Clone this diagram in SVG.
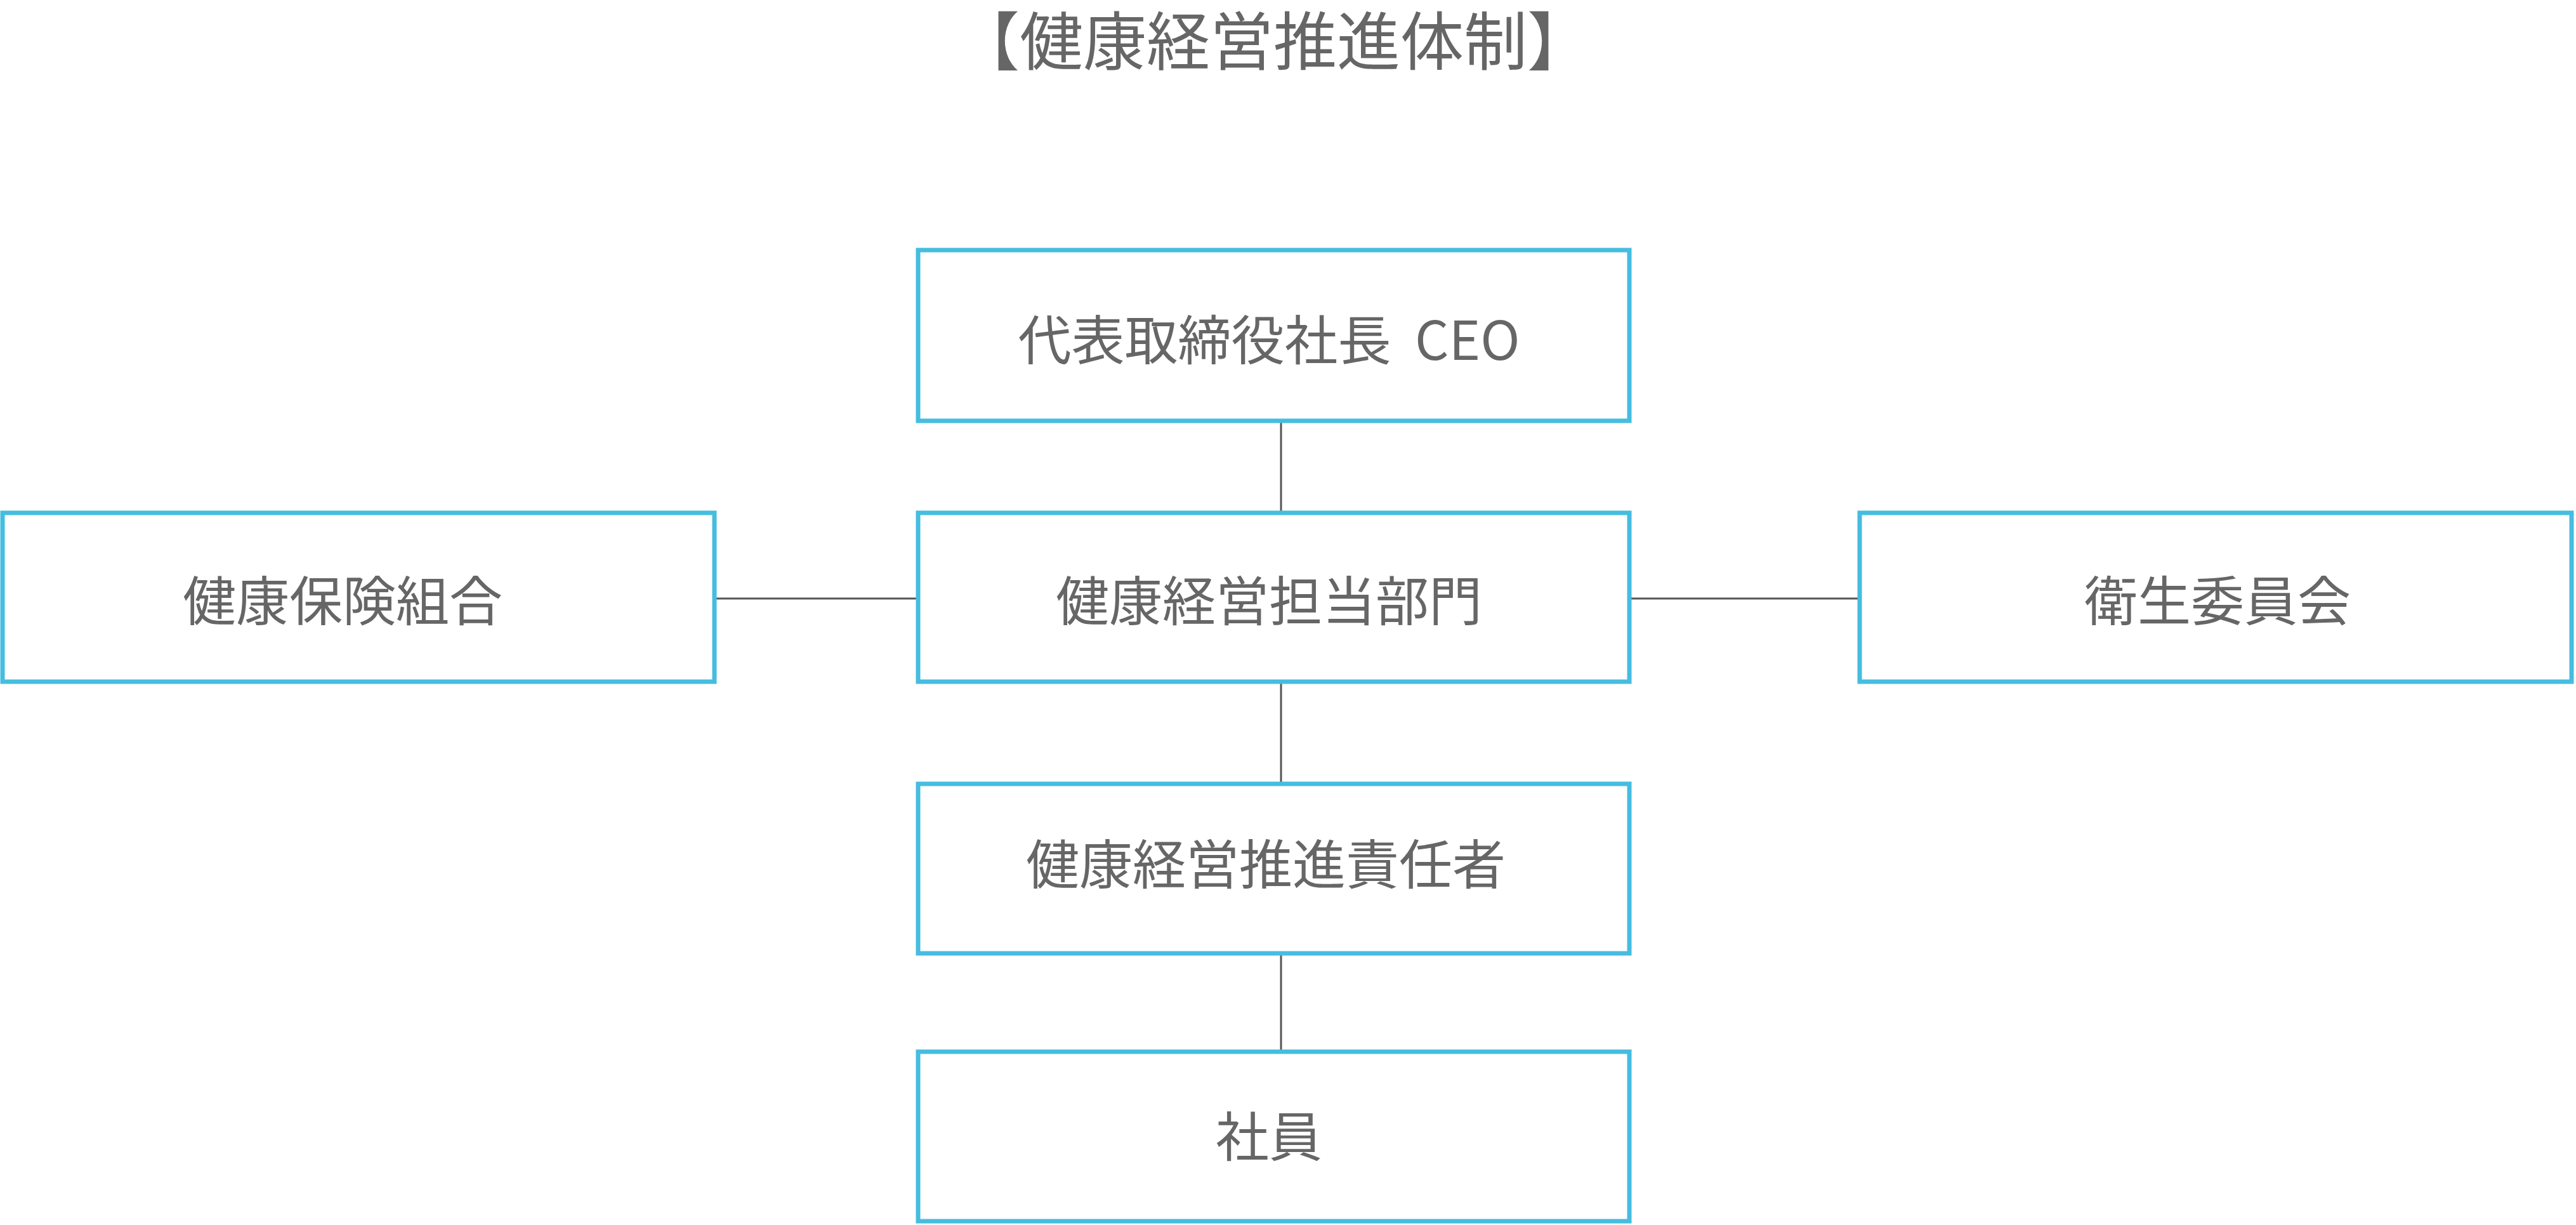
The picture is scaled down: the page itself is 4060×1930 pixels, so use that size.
<svg xmlns="http://www.w3.org/2000/svg" width="4060" height="1930" viewBox="0 0 4060 1930">
<style>
.box{fill:#fff;stroke:#45bde0;stroke-width:7}
.t{font-family:"Noto Sans CJK JP","Noto Sans",sans-serif;fill:#666;font-size:84px;text-anchor:middle;dominant-baseline:central}
.c{stroke:#555;stroke-width:3;fill:none}
</style>
<rect width="4060" height="1930" fill="#fff"/>
<text class="t" x="2007" y="58" style="font-size:100px">【健康経営推進体制】</text>
<g id="connectors">
<line class="c" x1="2019" y1="663" x2="2019" y2="808"/>
<line class="c" x1="2019" y1="1074" x2="2019" y2="1235"/>
<line class="c" x1="2019" y1="1502" x2="2019" y2="1657"/>
<line class="c" x1="1126" y1="943" x2="1447" y2="943"/>
<line class="c" x1="2568" y1="943" x2="2931" y2="943"/>
</g>
<g id="ceo"><rect class="box" x="1447" y="394" width="1121" height="269"/><text class="t" x="2000" y="530" xml:space="preserve">代表取締役社長  CEO</text></g>
<g id="dept"><rect class="box" x="1447" y="808" width="1121" height="266"/><text class="t" x="2000" y="941">健康経営担当部門</text></g>
<g id="kenpo"><rect class="box" x="4" y="808" width="1122" height="266"/><text class="t" x="540" y="941">健康保険組合</text></g>
<g id="eisei"><rect class="box" x="2931" y="808" width="1122" height="266"/><text class="t" x="3495" y="941">衛生委員会</text></g>
<g id="sekinin"><rect class="box" x="1447" y="1235" width="1121" height="267"/><text class="t" x="1995" y="1356">健康経営推進責任者</text></g>
<g id="shain"><rect class="box" x="1447" y="1657" width="1121" height="267"/><text class="t" x="2000" y="1785">社員</text></g>
</svg>
